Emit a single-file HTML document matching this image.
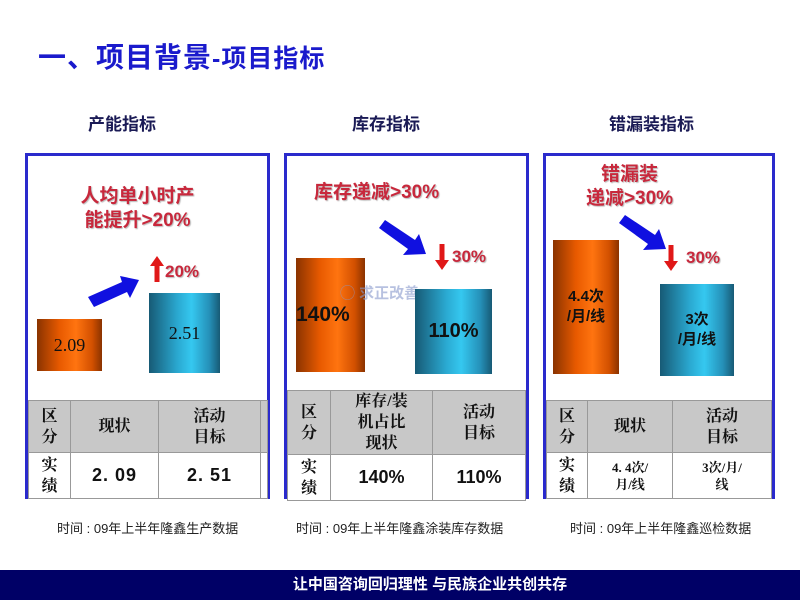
<!DOCTYPE html>
<html><head><meta charset="utf-8">
<style>
*{margin:0;padding:0;box-sizing:border-box}
body{width:800px;height:600px;background:#fff;position:relative;overflow:hidden;font-family:"Liberation Sans","Noto Sans CJK SC",sans-serif}
.a{position:absolute}
.title{left:38px;top:36px;color:#1a1acc;font-weight:bold;font-size:28px;white-space:nowrap;letter-spacing:1px}
.sub{top:110px;color:#1a1a55;font-weight:bold;font-size:17px;white-space:nowrap}
.panel{border:3px solid #2a2acc;top:153px;height:346px}
.tbl{position:absolute;border-collapse:collapse;font-family:"Liberation Serif","Noto Serif CJK SC",serif}
.tbl td{border:1px solid #999;text-align:center;vertical-align:middle;color:#111;font-weight:bold}
.tbl tr.h td{background:#c8c8c8;height:52px;font-size:16px;line-height:21px}
.tbl tr.d td{background:#fff;height:46px;font-size:18px;line-height:21px}
.red{color:#c8283c;font-weight:bold;white-space:nowrap;text-shadow:1px 1px 1px #bbb}
.or{background:linear-gradient(90deg,#8a3300 0%,#e85a00 35%,#ff7410 60%,#d25000 85%,#8a3300 100%)}
.bl{background:linear-gradient(90deg,#175a75 0%,#2aa8d0 40%,#35c8f0 60%,#2590b8 85%,#175a75 100%)}
.bt{display:flex;align-items:center;justify-content:center;text-align:center;color:#111}
.note{top:518px;font-size:13px;color:#222;white-space:nowrap}
</style></head><body>
<div class="a title">一、项目背景<span style="font-size:25px">-项目指标</span></div>
<div class="a sub" style="left:88px">产能指标</div>
<div class="a sub" style="left:352px">库存指标</div>
<div class="a sub" style="left:609px">错漏装指标</div>

<!-- panel 1 -->
<div class="a panel" style="left:25px;width:245px"></div>
<div class="a red" style="left:55px;top:185px;font-size:19px;line-height:24px;text-align:center;width:165px">人均单小时产<br>能提升&gt;20%</div>
<svg class="a" style="left:84px;top:270px" width="60" height="40"><polygon points="4,27 38,12 36,6 55,10 46,28 43,22 10,37" fill="#1010e0"/></svg>
<svg class="a" style="left:150px;top:256px" width="14" height="26"><polygon points="7,0 14,10 9.5,10 9.5,26 4.5,26 4.5,10 0,10" fill="#e01818"/></svg>
<div class="a red" style="left:165px;top:262px;font-size:17px">20%</div>
<div class="a or bt" style="left:37px;top:319px;width:65px;height:52px;font-family:'Liberation Serif',serif;font-size:18px">2.09</div>
<div class="a bl bt" style="left:149px;top:293px;width:71px;height:80px;font-family:'Liberation Serif',serif;font-size:18px">2.51</div>
<table class="tbl" style="left:28px;top:400px;width:240px">
<tr class="h"><td style="width:42px">区<br>分</td><td style="width:88px">现状</td><td style="width:102px">活动<br>目标</td><td></td></tr>
<tr class="d"><td style="font-size:16px">实<br>绩</td><td style="font-family:'Liberation Sans',sans-serif;letter-spacing:1px">2. 09</td><td style="font-family:'Liberation Sans',sans-serif;letter-spacing:1px">2. 51</td><td></td></tr>
</table>

<!-- panel 2 -->
<div class="a panel" style="left:284px;width:245px"></div>
<div class="a red" style="left:314px;top:177px;font-size:19px">库存递减&gt;30%</div>
<svg class="a" style="left:377px;top:220px" width="56" height="40"><polygon points="2,8 8,0 38,20 42,14 49,34 26,35 31,29" fill="#1010e0"/></svg>
<svg class="a" style="left:435px;top:244px" width="14" height="26"><polygon points="7,26 14,16 9.5,16 9.5,0 4.5,0 4.5,16 0,16" fill="#e01818"/></svg>
<div class="a red" style="left:452px;top:247px;font-size:17px">30%</div>
<div class="a or bt" style="left:296px;top:258px;width:69px;height:114px;font-size:21px;font-weight:bold;justify-content:flex-start">140%</div>
<div class="a" style="left:340px;top:282px;color:#8899cc;opacity:.6;font-size:15px;font-weight:bold;white-space:nowrap">&#9711; 求正改善</div>
<div class="a bl bt" style="left:415px;top:289px;width:77px;height:85px;font-size:20px;font-weight:bold">110%</div>
<table class="tbl" style="left:287px;top:390px;width:239px">
<tr class="h"><td style="width:43px;height:62px">区<br>分</td><td style="width:102px">库存/装<br>机占比<br>现状</td><td>活动<br>目标</td></tr>
<tr class="d"><td style="font-size:16px">实<br>绩</td><td style="font-family:'Liberation Sans',sans-serif">140%</td><td style="font-family:'Liberation Sans',sans-serif">110%</td></tr>
</table>

<!-- panel 3 -->
<div class="a panel" style="left:543px;width:232px"></div>
<div class="a red" style="left:572px;top:163px;font-size:19px;line-height:24px;text-align:center;width:115px">错漏装<br>递减&gt;30%</div>
<svg class="a" style="left:617px;top:215px" width="56" height="40"><polygon points="2,8 8,0 38,20 42,14 49,34 26,35 31,29" fill="#1010e0"/></svg>
<svg class="a" style="left:664px;top:245px" width="14" height="26"><polygon points="7,26 14,16 9.5,16 9.5,0 4.5,0 4.5,16 0,16" fill="#e01818"/></svg>
<div class="a red" style="left:686px;top:248px;font-size:17px">30%</div>
<div class="a or bt" style="left:553px;top:240px;width:66px;height:134px;font-size:15px;font-weight:bold;line-height:20px">4.4次<br>/月/线</div>
<div class="a bl bt" style="left:660px;top:284px;width:74px;height:92px;font-size:15px;font-weight:bold;line-height:20px">3次<br>/月/线</div>
<table class="tbl" style="left:546px;top:400px;width:226px">
<tr class="h"><td style="width:41px">区<br>分</td><td style="width:85px">现状</td><td>活动<br>目标</td></tr>
<tr class="d"><td style="font-size:16px">实<br>绩</td><td style="font-size:13px;line-height:17px">4. 4次/<br>月/线</td><td style="font-size:13px;line-height:17px">3次/月/<br>线</td></tr>
</table>

<div class="a note" style="left:57px">时间 : 09年上半年隆鑫生产数据</div>
<div class="a note" style="left:296px">时间 : 09年上半年隆鑫涂装库存数据</div>
<div class="a note" style="left:570px">时间 : 09年上半年隆鑫巡检数据</div>

<div class="a" style="left:0;top:570px;width:800px;height:30px;background:#000066;color:#fff;font-weight:bold;font-size:15px;text-align:center;line-height:30px;padding-left:60px">让中国咨询回归理性 与民族企业共创共存</div>
</body></html>
